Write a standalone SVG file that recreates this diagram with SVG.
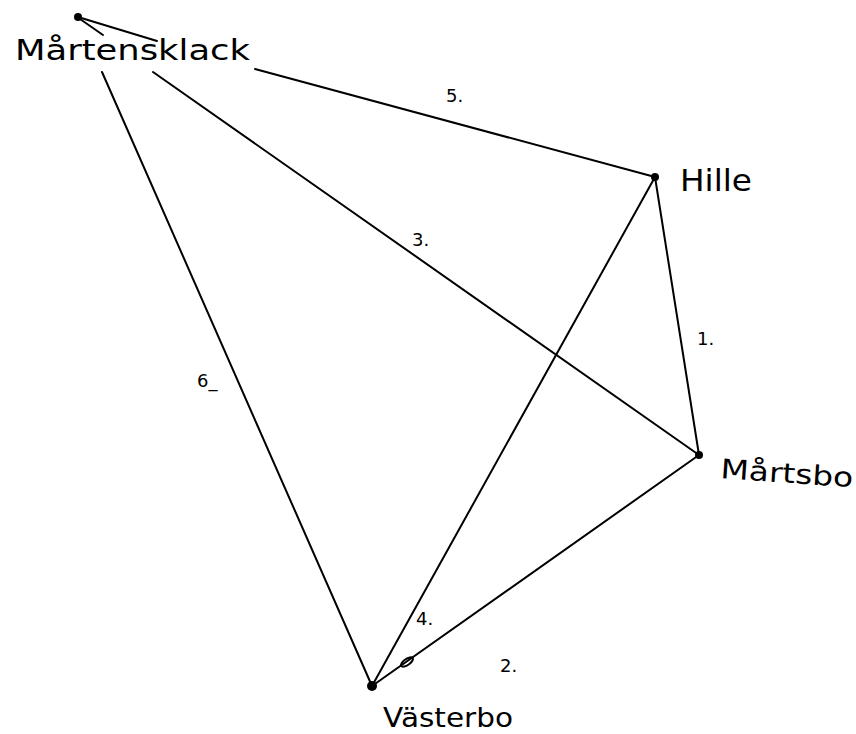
<svg xmlns="http://www.w3.org/2000/svg" width="856" height="734" viewBox="0 0 856 734">
<style>
.e{stroke:#000;stroke-width:2;fill:none;stroke-linecap:round}
.n{font-family:"DejaVu Sans","Liberation Sans",sans-serif;fill:#000}
.l{font-family:"DejaVu Sans","Liberation Sans",sans-serif;font-size:18px;fill:#000}
</style>
<rect width="856" height="734" fill="#fff"/>
<g id="edges">
<line class="e" x1="78" y1="17" x2="157" y2="41"/>
<line class="e" x1="80" y1="19" x2="103" y2="35"/>
<line class="e" x1="255" y1="69" x2="655" y2="177"/>
<line class="e" x1="153" y1="72" x2="699" y2="455"/>
<line class="e" x1="102" y1="72" x2="372" y2="686"/>
<line class="e" x1="372" y1="686" x2="655" y2="177"/>
<line class="e" x1="655" y1="177" x2="699" y2="455"/>
<line class="e" x1="699" y1="455" x2="372" y2="686"/>
<ellipse class="e" cx="407" cy="662" rx="7" ry="3" transform="rotate(-35 407 662)" stroke-width="1.3"/>
</g>
<g id="labels">
<text class="l" x="446" y="102">5.</text>
<text class="l" x="412" y="246">3.</text>
<text class="l" x="697" y="345">1.</text>
<text class="l" x="197" y="387">6_</text>
<text class="l" x="416" y="625">4.</text>
<text class="l" x="500" y="672">2.</text>
</g>
<g id="martensklack">
<circle cx="78" cy="17" r="4"/>
<text class="n" x="15" y="60" font-size="28" textLength="235" lengthAdjust="spacingAndGlyphs">Mårtensklack</text>
</g>
<g id="hille">
<circle cx="655" cy="177" r="4"/>
<text class="n" x="680" y="191" font-size="30" textLength="72" lengthAdjust="spacingAndGlyphs">Hille</text>
</g>
<g id="martsbo">
<circle cx="699" cy="455" r="4"/>
<text class="n" x="720" y="478" font-size="27" textLength="133" lengthAdjust="spacingAndGlyphs" transform="rotate(4 720 478)">Mårtsbo</text>
</g>
<g id="vasterbo">
<circle cx="372" cy="686" r="5"/>
<text class="n" x="383" y="727" font-size="27" textLength="130" lengthAdjust="spacingAndGlyphs">Västerbo</text>
</g>
</svg>
